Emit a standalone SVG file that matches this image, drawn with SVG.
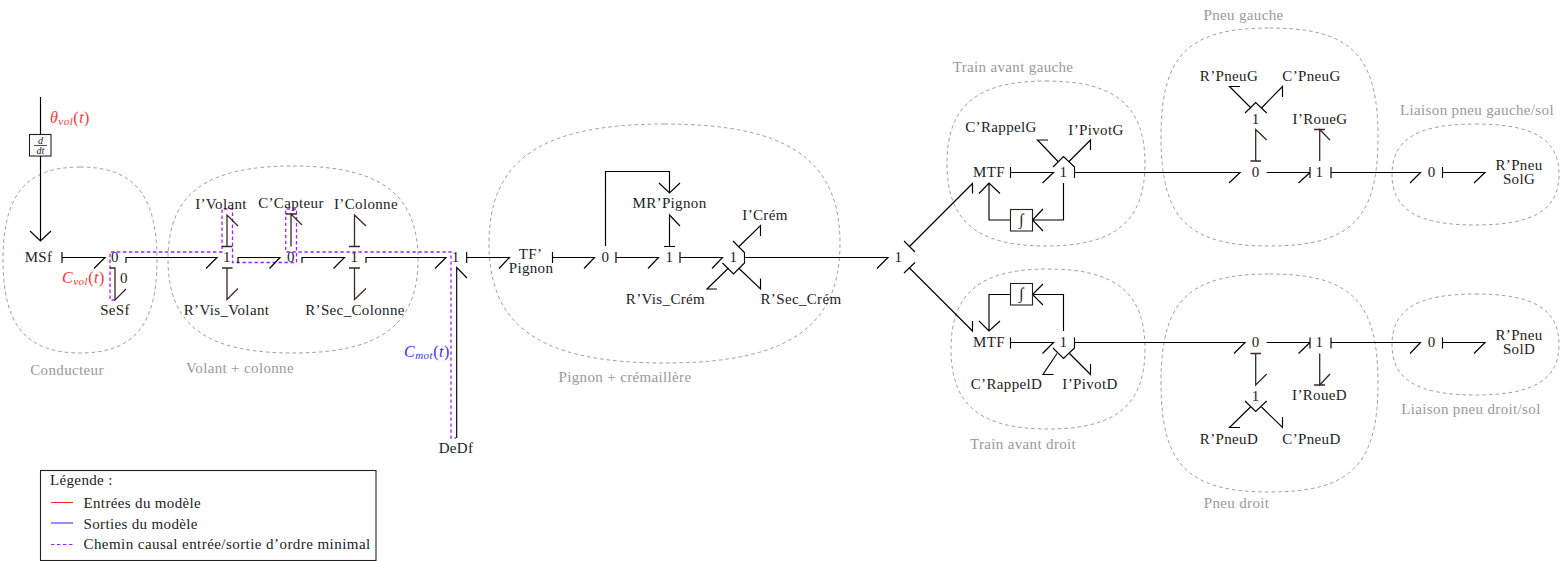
<svg xmlns="http://www.w3.org/2000/svg" width="1564" height="561" viewBox="0 0 1564 561">
<style>
text{font-family:"Liberation Serif","Times New Roman",serif;font-size:15px;letter-spacing:.35px;fill:#222;text-anchor:middle}
.g{fill:#999}
.m{font-style:italic;font-size:16px;letter-spacing:.5px}
.l{text-anchor:start}
.blob{fill:none;stroke:#888;stroke-width:.8;stroke-dasharray:3.6 3}
.path{fill:none;stroke:#a020ff;stroke-width:1.3;stroke-dasharray:3.4 2.6}
.c path{fill:none;stroke:#000;stroke-width:1.15}
.c path.v{stroke:#3a2828;stroke-width:1.3}
.box{fill:#fff;stroke:#222;stroke-width:1.1}
</style>
<rect width="1564" height="561" fill="#fff"/>
<g id="zones">
<path class="blob" d="M80 167C134 167 157 195 157 260C157 325 134 353 80 353C26 353 3 325 3 260C3 195 26 167 80 167Z"/>
<path class="blob" d="M293 166C380.500 166 418 194 418 259.500C418 325 380.500 353 293 353C205.500 353 168 325 168 259.500C168 194 205.500 166 293 166Z"/>
<path class="blob" d="M664.500 124C787.500 124 840 159.500 840 243.500C840 327.500 787.500 363 664.500 363C541.500 363 489 327.500 489 243.500C489 159.500 541.500 124 664.500 124Z"/>
<path class="blob" d="M1046 81C1115 81 1145 105.500 1145 163.500C1145 221.500 1115 246 1046 246C977 246 947 221.500 947 163.500C947 105.500 977 81 1046 81Z"/>
<path class="blob" d="M1048 269C1116 269 1145 293 1145 349C1145 405 1116 429 1048 429C980 429 951 405 951 349C951 293 980 269 1048 269Z"/>
<path class="blob" d="M1269.500 28C1351 28 1378 55 1378 137C1378 219 1351 246 1269.500 246C1188 246 1161 219 1161 137C1161 55 1188 28 1269.500 28Z"/>
<path class="blob" d="M1269.500 274C1351 274 1378 301 1378 383C1378 465 1351 492 1269.500 492C1188 492 1161 465 1161 383C1161 301 1188 274 1269.500 274Z"/>
<path class="blob" d="M1475.500 124C1534 124 1559 139.500 1559 174.500C1559 209.500 1534 225 1475.500 225C1417 225 1392 209.500 1392 174.500C1392 139.500 1417 124 1475.500 124Z"/>
<path class="blob" d="M1475.500 294C1534 294 1559 309.500 1559 344.500C1559 379.500 1534 395 1475.500 395C1417 395 1392 379.500 1392 344.500C1392 309.500 1417 294 1475.500 294Z"/>
<text class="g" x="67" y="375">Conducteur</text>
<text class="g" x="240" y="373">Volant + colonne</text>
<text class="g" x="625" y="382">Pignon + crémaillère</text>
<text class="g" x="1013" y="72">Train avant gauche</text>
<text class="g" x="1023" y="449">Train avant droit</text>
<text class="g" x="1243.500" y="20">Pneu gauche</text>
<text class="g" x="1236.500" y="508">Pneu droit</text>
<text class="g" x="1477" y="115">Liaison pneu gauche/sol</text>
<text class="g" x="1471" y="414">Liaison pneu droit/sol</text>
</g>
<path id="causal-path" class="path" d="M115 300H110V252H222V209H232.500V262.500H296.500V209H285.700V252H451V438H456"/>
<g id="connectors" class="c">
<path d="M40.500 97V134M40.500 156V241M30 231L40.500 241L51 231"/>
<path d="M62 252V263M62 257.500H105L94 268.500"/>
<path class="v" d="M110 268H115V300L126 289"/>
<path d="M126 263V257.500H217L206 268.500"/>
<path class="v" d="M222 246.500H232.500M227 246.500V215L238 226"/>
<path class="v" d="M222 268H232.500M227 268V299.500L238 288.500"/>
<path d="M238 263V257.500H280L269.500 268.500"/>
<path class="v" d="M291 246.500V214L302 225M285.700 214H296.500"/>
<path d="M302 263V257.500H344.500L333.500 268.500"/>
<path class="v" d="M349 246.500H360M354.500 246.500V215L366 226"/>
<path class="v" d="M349 268H360M354.500 268V299.500L366 288.500"/>
<path d="M366 263V257.500H446L435 268.500"/>
<path d="M456.700 438V267.500L467 278"/>
<path d="M466.700 252V263M466.700 257.500H509.500L499 268.500"/>
<path d="M552.500 252V263M552.500 257.500H594.500L584 268.500"/>
<path d="M616 252V263M616 257.500H658.500L648 268.500"/>
<path d="M605.500 246V171.500H669.500V193M659 183L669.500 193L680 183"/>
<path d="M664 246.500H675M669.500 246.500V215L680 226"/>
<path d="M680 252V263M680 257.500H722.500L712 268.500"/>
<path d="M733 241L744.500 252.500V263L733.500 274L722.500 263"/>
<path d="M738.500 247L760.500 225.500V236"/>
<path d="M738.500 268L760.500 289V278.500"/>
<path d="M728.500 268L707 289H717"/>
<path d="M744.500 257.500H888L877 268.500"/>
<path d="M904 241L915 252M909.500 246.500L972.500 183.500V193.500"/>
<path d="M904 273L915 262.500M909.500 268L972.500 331V321"/>
<path d="M1010.500 167V178M1010.500 172.500H1053.500L1042.500 183"/>
<path d="M1053 167L1063.500 156.500L1074.500 167V178"/>
<path d="M1058 161.500L1037.500 140H1048"/>
<path d="M1069 161.500L1090.500 140V150"/>
<path d="M1074.500 172.500H1240L1229 183"/>
<path d="M1063.500 183V220H1032.500M1043 209L1032.500 220L1043 231"/>
<path d="M1010.500 220H989V183M979 193.500L989 183L1000 193.500"/>
<path d="M1010.500 337.500V348.500M1010.500 342.500H1053.500L1042.500 353.500"/>
<path d="M1053 348L1063.500 358.500L1074.500 348V337.500"/>
<path d="M1057 353.500L1043 374.500H1053.500"/>
<path d="M1069.500 353.500L1090.500 374.500V364"/>
<path d="M1074.500 342.500H1245L1234 353.500"/>
<path d="M1063.500 331V294.500H1032.500M1043 284L1032.500 294.500L1043 305"/>
<path d="M1010.500 294.500H989V331M979 321L989 331L1000 321"/>
<path class="v" d="M1250.500 161H1261M1255.700 161V129.500L1266.700 140"/>
<path d="M1245 113L1255.700 102.500L1266.700 113"/>
<path d="M1251 108L1229.500 86.500H1240"/>
<path d="M1261.500 108L1282.500 86.500V97"/>
<path d="M1266.700 172.500H1310V167V178M1310 172.500L1298.500 183"/>
<path class="v" d="M1314 129.500H1325M1319.700 161V129.500L1330 140"/>
<path d="M1331 167V178M1331 172.500H1420.500L1410 183"/>
<path d="M1442.500 167V178M1442.500 172.500H1485L1474 183"/>
<path class="v" d="M1250.500 353.500H1261M1255.700 353.500V385L1266.700 374"/>
<path d="M1245 401L1255.700 411.500L1266.700 401"/>
<path d="M1250.500 407L1229.500 427.500H1240"/>
<path d="M1261.500 407L1282.500 427.500V417"/>
<path d="M1266.700 342.500H1310V337.500V348.500M1310 342.500L1298.500 353.500"/>
<path class="v" d="M1314 385H1325M1319.700 353.500V385L1330 374"/>
<path d="M1331 337.500V348.500M1331 342.500H1420.500L1410 353.500"/>
<path d="M1442.500 337.500V348.500M1442.500 342.500H1485L1474 353.500"/>
</g>
<g id="ddt"><rect class="box" x="29.500" y="134.500" width="21.500" height="21.500"/><text class="m" x="40.500" y="143.500" style="font-size:10px;letter-spacing:0">d</text><path d="M34 145.500H47" stroke="#222" stroke-width=".8"/><text class="m" x="40.500" y="153.500" style="font-size:10px;letter-spacing:0">dt</text></g>
<g id="int-g"><rect class="box" x="1010.500" y="209.500" width="22" height="21.500"/><text x="1021.500" y="225" class="m">∫</text></g>
<g id="int-d"><rect class="box" x="1010.500" y="283.500" width="22" height="21.500"/><text x="1021.500" y="299" class="m">∫</text></g>
<g id="msf"><text x="38.500" y="262">MSf</text></g>
<g id="j0a"><text x="115" y="262">0</text></g>
<g id="causal0"><text x="124" y="283">0</text></g>
<g id="sesf"><text x="115" y="315">SeSf</text></g>
<g id="j1a"><text x="227" y="262">1</text></g>
<g id="ivolant"><text x="221" y="209">I’Volant</text></g>
<g id="rvisvolant"><text x="226.500" y="315">R’Vis_Volant</text></g>
<g id="j0b"><text x="291" y="262">0</text></g>
<g id="ccapteur"><text x="291" y="208">C’Capteur</text></g>
<g id="j1b"><text x="354.500" y="262">1</text></g>
<g id="icolonne"><text x="366" y="209">I’Colonne</text></g>
<g id="rseccolonne"><text x="355" y="315">R’Sec_Colonne</text></g>
<g id="j1c"><text x="455.700" y="262">1</text></g>
<g id="dedf"><text x="456" y="453">DeDf</text></g>
<g id="tf"><text x="530.500" y="259">TF’</text><text x="531" y="273">Pignon</text></g>
<g id="j0c"><text x="605.500" y="262">0</text></g>
<g id="mrpignon"><text x="669.500" y="208">MR’Pignon</text></g>
<g id="j1d"><text x="669.500" y="262">1</text></g>
<g id="j1e"><text x="733.500" y="262">1</text></g>
<g id="icrem"><text x="765" y="220">I’Crém</text></g>
<g id="rviscrem"><text x="665.500" y="304">R’Vis_Crém</text></g>
<g id="rseccrem"><text x="801" y="304">R’Sec_Crém</text></g>
<g id="j1f"><text x="898.500" y="262">1</text></g>
<g id="mtfg"><text x="989" y="176.500">MTF</text></g>
<g id="j1g"><text x="1063.500" y="176.500">1</text></g>
<g id="crappelg"><text x="1001" y="132">C’RappelG</text></g>
<g id="ipivotg"><text x="1096" y="135">I’PivotG</text></g>
<g id="mtfd"><text x="989" y="347">MTF</text></g>
<g id="j1h"><text x="1063.500" y="347">1</text></g>
<g id="crappeld"><text x="1006.500" y="389">C’RappelD</text></g>
<g id="ipivotd"><text x="1090" y="389">I’PivotD</text></g>
<g id="j0g"><text x="1255.700" y="176.500">0</text></g>
<g id="j1i"><text x="1255.700" y="123.500">1</text></g>
<g id="rpneug"><text x="1229" y="81">R’PneuG</text></g>
<g id="cpneug"><text x="1311.500" y="81">C’PneuG</text></g>
<g id="j1j"><text x="1319.500" y="176.500">1</text></g>
<g id="irogueg"><text x="1320" y="123.500">I’RoueG</text></g>
<g id="j0h"><text x="1431.700" y="176.500">0</text></g>
<g id="rpneusolg"><text x="1519" y="169.500">R’Pneu</text><text x="1519" y="184">SolG</text></g>
<g id="j0d"><text x="1255.700" y="347">0</text></g>
<g id="j1k"><text x="1255.700" y="400.500">1</text></g>
<g id="rpneud"><text x="1229" y="444">R’PneuD</text></g>
<g id="cpneud"><text x="1311.500" y="444">C’PneuD</text></g>
<g id="j1l"><text x="1319.500" y="347">1</text></g>
<g id="iroued"><text x="1319.500" y="400">I’RoueD</text></g>
<g id="j0i"><text x="1431.700" y="347">0</text></g>
<g id="rpneusold"><text x="1519" y="340">R’Pneu</text><text x="1519" y="354">SolD</text></g>
<g id="signals">
<text class="m l" x="50" y="123" style="fill:#f33">θ<tspan font-size="11" dy="2">vol</tspan><tspan dy="-2" font-style="normal">(</tspan>t<tspan font-style="normal">)</tspan></text>
<text class="m l" x="62" y="283" style="fill:#f33">C<tspan font-size="11" dy="2">vol</tspan><tspan dy="-2" font-style="normal">(</tspan>t<tspan font-style="normal">)</tspan></text>
<text class="m l" x="404" y="357" style="fill:#33f">C<tspan font-size="11" dy="2">mot</tspan><tspan dy="-2" font-style="normal">(</tspan>t<tspan font-style="normal">)</tspan></text>
</g>
<g id="legend">
<rect x="40.500" y="470.500" width="335.500" height="90" fill="none" stroke="#222" stroke-width="1.1"/>
<text class="l" x="50" y="485">Légende :</text>
<path d="M51 502.500H73" stroke="#f22" fill="none"/>
<text class="l" x="83.500" y="507.500">Entrées du modèle</text>
<path d="M51 523H73" stroke="#44f" stroke-width="1.2" fill="none"/>
<text class="l" x="83.500" y="528.500">Sorties du modèle</text>
<path d="M51 544.500H73" stroke="#a020ff" fill="none" stroke-dasharray="3.4 2.6"/>
<text class="l" x="83.500" y="548.500" textLength="287">Chemin causal entrée/sortie d’ordre minimal</text>
</g>
</svg>
